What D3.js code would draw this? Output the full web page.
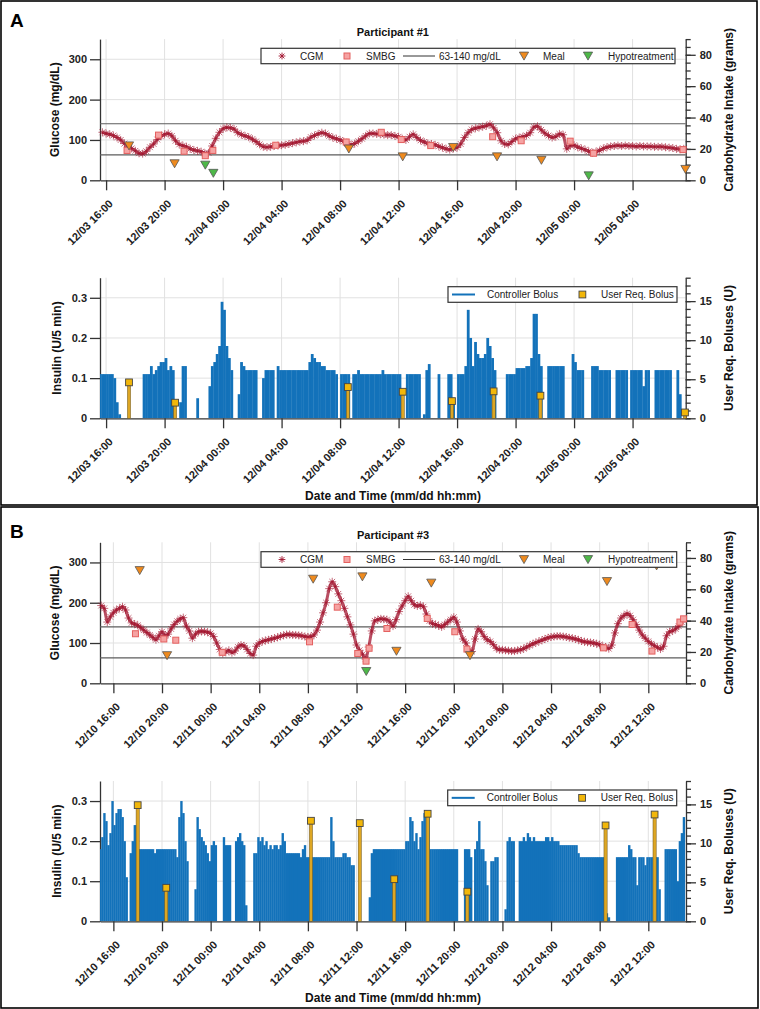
<!DOCTYPE html>
<html><head><meta charset="utf-8">
<script src="https://cdn.jsdelivr.net/npm/d3@7"></script>
<style>body{margin:0;background:#fff}</style>
</head><body>
<script>
// ---------------- DATA ----------------
const ticksA = ["12/03 16:00","12/03 20:00","12/04 00:00","12/04 04:00","12/04 08:00","12/04 12:00","12/04 16:00","12/04 20:00","12/05 00:00","12/05 04:00"];
const ticksB = ["12/10 16:00","12/10 20:00","12/11 00:00","12/11 04:00","12/11 08:00","12/11 12:00","12/11 16:00","12/11 20:00","12/12 00:00","12/12 04:00","12/12 08:00","12/12 12:00"];

// CGM, one reading every 15 min
const cgmA_start = "12/03 15:45";
const cgmA = [119,
 116,114,111,106, 100,91,84,79, 73,67,66,72, 82,90,101,109, 114,116,110,98, 89,86,83,78,
 75,73,71,67, 68,85,104,119, 128,131,130,127, 118,113,110,107, 102,96,89,83, 82,83,85,86,
 87,88,90,92, 94,96,97,99, 107,111,115,118, 116,110,106,103, 100,96,90,88, 91,97,103,110,
 116,116,115,114, 113,112,112,110, 108,103,100,108, 114,106,99,95, 91,90,88,84, 81,78,76,79,
 81,90,106,118, 126,129,131,133, 135,139,130,118, 98,90,89,96, 103,106,108,111, 118,132,134,125,
 117,111,106,108, 115,113,78,86, 87,82,79,76, 72,68,71,74, 79,82,84,85, 86,85,86,85,
 85,84,85,84, 84,84,83,83, 83,82,81,80, 78,77,78];
const cgmB_start = "12/10 15:00";
const cgmB = [193,186,152,165, 175,182,186,190, 182,162,150,147, 144,138,132,126, 120,114,108,118,
 128,118,122,135, 146,154,160,163, 142,130,112,122, 128,129,128,127, 124,116,100,84,
 74,78,82,76, 80,90,95,93, 84,74,70,92, 100,104,106,108, 110,112,114,117,
 119,121,121,120, 120,119,118,116, 115,116,120,132, 152,175,200,235, 252,240,222,205,
 186,165,145,122, 95,82,72,60, 90,130,155,158, 160,159,158,152, 142,158,178,192,
 205,216,205,195, 192,194,190,172, 155,148,146,143, 140,146,152,158, 164,152,130,110,
 100,82,79,110, 135,128,116,108, 104,96,87,83, 83,82,81,80, 80,82,83,86,
 90,94,98,101, 104,107,110,113, 115,116,117,117, 116,115,113,112, 110,108,105,103,
 102,101,100,98, 96,92,90,86, 95,125,148,162, 168,173,168,158, 146,132,120,112,
 104,98,93,89, 85,92,118,128, 130,135,142,152];

// SMBG (mg/dL)
const smbgA_t = ["12/03 17:26","12/03 19:35","12/03 21:20","12/03 22:47","12/03 23:18","12/04 03:36","12/04 08:25","12/04 10:49","12/04 12:11","12/04 14:12","12/04 18:26","12/04 20:23","12/04 23:44","12/05 01:20","12/05 07:27"];
const smbgA_v = [74,112,72,61,74,87,95,119,101,86,108,98,97,67,76];
const smbgB_t = ["12/10 17:49","12/10 20:09","12/10 21:08","12/11 00:57","12/11 08:08","12/11 10:25","12/11 12:06","12/11 12:47","12/11 13:02","12/11 14:30","12/11 17:49","12/11 20:05","12/11 21:05","12/12 08:19","12/12 10:40","12/12 12:18","12/12 14:36","12/12 14:54"];
const smbgB_v = [123,110,107,77,103,189,74,55,87,136,161,128,85,88,146,80,152,160];

// Meals and hypotreatments (grams)
const mealA_t = ["12/03 17:34","12/03 20:41","12/04 08:36","12/04 12:17","12/04 15:44","12/04 18:44","12/04 21:46","12/05 07:37"];
const mealA_g = [22,10.6,20,15,21,15,12.8,7];
const hypoA_t = ["12/03 22:47","12/03 23:20","12/05 01:00"];
const hypoA_g = [9.7,4.5,2.9];
const mealB_t = ["12/10 18:10","12/10 20:25","12/11 08:26","12/11 12:29","12/11 15:17","12/11 18:09","12/11 21:20","12/12 08:36","12/12 12:41"];
const mealB_g = [72,17.7,66.5,68,20.5,64,17.7,65,75];
const hypoB_t = ["12/11 12:48"];
const hypoB_g = [7.6];

// Controller bolus (U / 5 min), one value per 10 min
const insA_start = "12/03 15:30";
const insA = [
 0.11,0.11,0.11,0.11,0.11,0.11, 0.10,0.04,0.01,0,0,0, 0,0,0,0,0,0,
 0.11,0.11,0.11,0.13,0.11,0.12, 0.13,0.14,0.14,0.15,0.12,0.13, 0.12,0,0,0.04,0.13,0.13,
 0,0,0,0,0.05,0, 0,0,0,0.08,0.13,0.14, 0.16,0.18,0.29,0.27,0.18,0.15,
 0.12,0,0,0.06,0.14,0.13, 0.12,0.12,0.12,0.12,0.12,0, 0,0.10,0.12,0.12,0.12,0.12,
 0,0.13,0.12,0.12,0.12,0.12, 0.12,0.12,0.12,0.12,0.12,0.12, 0.12,0.12,0.14,0.16,0.15,0.14,
 0.14,0.13,0.13,0.12,0.12,0.12, 0.12,0.11,0,0.11,0.11,0.11, 0.11,0,0.11,0.11,0.12,0.11,
 0.11,0.11,0.11,0.11,0.11,0.11, 0.11,0.11,0.12,0.11,0.11,0.11, 0.11,0.11,0.11,0.11,0,0,
 0.11,0.11,0.11,0.11,0.11,0.11, 0,0.01,0.12,0.135,0,0, 0,0.11,0,0,0,0.11,
 0.11,0.04,0,0.11,0.11,0.11, 0.13,0.27,0.2,0.13,0.19,0.16, 0.15,0.15,0.16,0.2,0.18,0.15,
 0.12,0,0,0,0,0.11, 0.11,0.11,0.11,0.125,0.125,0.125, 0.125,0.13,0.13,0.15,0.26,0.26,
 0.16,0.13,0,0,0.13,0.13, 0.13,0.13,0.13,0.13,0.13,0, 0,0,0.16,0.14,0.12,0.12,
 0.12,0,0,0,0.13,0.13, 0.13,0.12,0.12,0.12,0.12,0.12, 0,0,0.12,0.12,0.12,0.12,
 0.12,0,0.12,0.12,0.12,0.12, 0.12,0.08,0.12,0.12,0,0, 0.12,0.12,0.12,0.12,0.12,0.12,
 0.12,0,0,0.12,0.06,0];
const insB_start = "12/10 14:50";
const insB = [0.18,
 0.21,0.27,0.25,0.19,0.22,0.3, 0.24,0.27,0.28,0.28,0.26,0.2, 0.11,0,0.17,0.2,0.24,0.24,
 0.18,0.18,0.18,0.18,0.18,0.18, 0.18,0.18,0.17,0.18,0.18,0.18, 0.18,0.18,0.18,0.18,0.18,0.18,
 0.18,0.16,0.26,0.3,0.27,0.2, 0.15,0,0,0,0.08,0.26, 0.23,0.21,0.2,0.19,0.17,0.15,
 0.19,0.2,0.19,0,0,0, 0.21,0.19,0.19,0.19,0,0, 0.2,0.21,0.22,0.2,0.19,0.04,
 0,0,0,0.17,0.17,0.21, 0.2,0.21,0.19,0.2,0.18,0.19, 0.18,0.19,0.19,0.18,0.19,0.22,
 0.2,0.17,0.17,0.17,0.17,0.17, 0.17,0.17,0.16,0.18,0.19,0.16, 0.16,0.16,0.16,0.16,0.16,0.16,
 0.16,0.16,0.16,0.16,0.16,0.26, 0.2,0.16,0.16,0.16,0.16,0.17, 0.17,0.16,0.16,0.14,0.14,0,
 0,0,0,0,0,0, 0.06,0.17,0.18,0.18,0.18,0.18, 0.18,0.18,0.18,0.18,0.18,0.18,
 0.18,0.18,0.18,0.18,0.18,0.18, 0.2,0.2,0.26,0.25,0.2,0.22, 0.18,0.21,0.25,0.27,0.27,0.26,
 0.18,0.18,0.18,0.18,0.18,0.18, 0.18,0.18,0.18,0.18,0.18,0.18, 0.18,0.18,0,0,0,0.18,
 0.18,0.18,0.16,0,0.18,0.2, 0.25,0.18,0.18,0.15,0.09,0, 0.15,0.15,0.16,0.16,0,0,
 0,0.03,0.2,0.21,0.2,0.2, 0,0,0.2,0.2,0.21,0.2, 0.22,0.21,0.2,0.21,0.2,0.2,
 0.2,0.2,0.2,0.21,0.21,0.2, 0.21,0.2,0.2,0.2,0.19,0.19, 0.19,0.19,0.19,0.19,0.19,0.19,
 0.19,0.17,0.16,0.16,0.16,0.16, 0.16,0.16,0.16,0.16,0.16,0.16, 0.16,0.16,0.16,0.02,0.01,0,
 0,0,0.16,0.16,0.16,0.16, 0.16,0.16,0.19,0.18,0.16,0.16, 0.09,0.16,0.16,0.16,0.14,0.16,
 0.16,0.16,0.16,0.16,0.16,0.08, 0,0,0.18,0.18,0.18,0.18, 0.18,0.18,0.1,0.2,0.22,0.26];

// User requested boluses (U)
const bolA_t = ["12/03 17:34","12/03 20:43","12/04 08:32","12/04 12:17","12/04 15:39","12/04 18:30","12/04 21:42","12/05 07:35"];
const bolA_u = [4.6,2.0,4.0,3.4,2.2,3.45,2.9,0.75];
const bolB_t = ["12/10 18:00","12/10 20:21","12/11 08:15","12/11 12:16","12/11 15:06","12/11 17:51","12/11 21:07","12/12 08:29","12/12 12:31"];
const bolB_u = [14.9,4.3,12.9,12.6,5.4,13.8,3.8,12.3,13.7];

// ---------------- DRAWING ----------------
const parseT = d3.timeParse("%Y/%m/%d %H:%M");
const T = s => parseT("2019/" + s);
const FONT = "'Liberation Sans', Arial, Helvetica, sans-serif";
const C = {cgm:"#A2142F", smbgF:"#F5A3A3", smbgS:"#E4605F", meal:"#EE8A1E", hypo:"#4DB848",
           ins:"#1372BA", bolF:"#F2B70A", bolStem:"#DDA623", ref:"#5c5c5c", grid:"#e1e1e1", axis:"#333"};

const svg = d3.select("body").append("svg").attr("width",760).attr("height",1009)
  .style("font-family",FONT);
const defs = svg.append("defs");
const asterisk = "M-4,0H4M0,-4V4M-2.9,-2.9L2.9,2.9M-2.9,2.9L2.9,-2.9";
const asteriskLeg = "M-3.4,0H3.4M0,-3.4V3.4M-2.4,-2.4L2.4,2.4M-2.4,2.4L2.4,-2.4";
const triDown = "M-4.6,-3.9L4.6,-3.9L0,4.1Z";
let clipN = 0;

function styleAxis(ax){
  ax.select(".domain").attr("stroke",C.axis).attr("stroke-width",1.3);
  ax.selectAll(".tick line").attr("stroke",C.axis).attr("stroke-width",1.3);
  ax.selectAll("text").attr("fill","#222").style("font-family",FONT).style("font-weight","bold").style("font-size","11px");
}

function frame(x, yL, yR, top, bot, leftTicks, leftFmt, rMax, rMinorStep, rMajorStep, xTicks){
  const x0 = x.range()[0], x1 = x.range()[1];
  svg.append("g").selectAll("line").data(xTicks).join("line")
    .attr("x1",d=>x(d)).attr("x2",d=>x(d)).attr("y1",top).attr("y2",bot)
    .attr("stroke",C.grid).attr("stroke-width",1);
  svg.append("g").selectAll("line").data(leftTicks.filter(v=>v>0)).join("line")
    .attr("x1",x0).attr("x2",x1).attr("y1",d=>yL(d)).attr("y2",d=>yL(d))
    .attr("stroke",C.grid).attr("stroke-width",1);
  const la = svg.append("g").attr("transform",`translate(${x0},0)`)
    .call(d3.axisLeft(yL).tickValues(leftTicks).tickFormat(leftFmt).tickSize(10).tickSizeOuter(0).tickPadding(3));
  styleAxis(la);
  const ra1 = svg.append("g").attr("transform",`translate(${x1},0)`)
    .call(d3.axisRight(yR).tickValues(d3.range(0,rMax+0.001,rMinorStep)).tickFormat("").tickSize(5).tickSizeOuter(0));
  styleAxis(ra1);
  const ra2 = svg.append("g").attr("transform",`translate(${x1},0)`)
    .call(d3.axisRight(yR).tickValues(d3.range(0,rMax+0.001,rMajorStep).filter(v=>v<=rMax-3)).tickSize(10).tickSizeOuter(0).tickPadding(4));
  styleAxis(ra2);
  ra2.select(".domain").remove();
  const ba = svg.append("g").attr("transform",`translate(0,${bot})`)
    .call(d3.axisBottom(x).tickValues(xTicks).tickFormat(d3.timeFormat("%m/%d %H:%M")).tickSize(10).tickSizeOuter(0));
  styleAxis(ba);
  ba.selectAll("text").attr("x",null).attr("y",null).attr("dy",null)
    .attr("text-anchor","end").attr("transform","translate(7,24) rotate(-45)");
}

function legendBox(x0,x1,y0,y1){
  svg.append("rect").attr("x",x0).attr("y",y0).attr("width",x1-x0).attr("height",y1-y0)
    .attr("fill","#fff").attr("stroke","#333").attr("stroke-width",1.2);
}
function legText(x,y,s){
  svg.append("text").attr("x",x).attr("y",y+3.6).text(s).attr("font-size","10px").attr("fill","#222");
}

function panel(P){
  const x = d3.scaleTime().domain([T(P.d0),T(P.d1)]).range([P.x0,P.x1]);
  const xt = P.ticks.map(T);
  const yG = d3.scaleLinear().domain([0,350]).range([P.gBot,P.gTop]);
  const yC = d3.scaleLinear().domain([0,90]).range([P.gBot,P.gTop]);
  frame(x,yG,yC,P.gTop,P.gBot,[0,100,200,300],d3.format("d"),90,5,20,xt);
  svg.append("g").selectAll("line").data([63,140]).join("line")
    .attr("x1",P.x0).attr("x2",P.x1).attr("y1",d=>yG(d)).attr("y2",d=>yG(d))
    .attr("stroke",C.ref).attr("stroke-width",1.1);
  // CGM: dense asterisk band (line under the markers keeps the band continuous)
  const cs = T(P.cgmStart);
  const tx = (d,i)=>x(d3.timeMinute.offset(cs,15*i));
  svg.append("path").datum(P.cgm)
    .attr("d",d3.line().x(tx).y(d=>yG(d)).curve(d3.curveMonotoneX))
    .attr("fill","none").attr("stroke",C.cgm).attr("stroke-width",3).attr("opacity",0.75);
  svg.append("g").selectAll("path").data(P.cgm).join("path")
    .attr("d",asterisk)
    .attr("transform",(d,i)=>`translate(${tx(d,i)},${yG(d)})`)
    .attr("fill","none").attr("stroke",C.cgm).attr("stroke-width",0.9).attr("opacity",0.7);
  svg.append("g").selectAll("rect").data(P.smbgT).join("rect")
    .attr("x",(d)=>x(T(d))-3).attr("y",(d,i)=>yG(P.smbgV[i])-3).attr("width",6).attr("height",6)
    .attr("fill",C.smbgF).attr("stroke",C.smbgS).attr("stroke-width",1);
  svg.append("g").selectAll("path").data(P.mealT).join("path").attr("d",triDown)
    .attr("transform",(d,i)=>`translate(${x(T(d))},${yC(P.mealG[i])})`)
    .attr("fill",C.meal).attr("stroke","#555").attr("stroke-width",0.8);
  svg.append("g").selectAll("path").data(P.hypoT).join("path").attr("d",triDown)
    .attr("transform",(d,i)=>`translate(${x(T(d))},${yC(P.hypoG[i])})`)
    .attr("fill",C.hypo).attr("stroke","#555").attr("stroke-width",0.8);
  svg.append("text").attr("x",(P.x0+P.x1)/2).attr("y",P.titleY).attr("text-anchor","middle")
    .attr("font-weight","bold").attr("font-size","11px").attr("fill","#111").text(P.title);
  svg.append("text").attr("transform",`translate(59,${(P.gTop+P.gBot)/2}) rotate(-90)`)
    .attr("text-anchor","middle").attr("font-weight","bold").attr("font-size","12px").attr("fill","#111").text("Glucose (mg/dL)");
  svg.append("text").attr("transform",`translate(733,${(P.gTop+P.gBot)/2}) rotate(-90)`)
    .attr("text-anchor","middle").attr("font-weight","bold").attr("font-size","12px").attr("fill","#111").text("Carbohydrate Intake (grams)");
  const L = P.legG, ly = (L[2]+L[3])/2;
  legendBox(L[0],L[1],L[2],L[3]);
  svg.append("path").attr("d",asteriskLeg).attr("transform",`translate(${L[0]+21},${ly})`).attr("fill","none").attr("stroke",C.cgm).attr("stroke-width",0.9);
  legText(L[0]+39,ly,"CGM");
  svg.append("rect").attr("x",L[0]+83).attr("y",ly-3).attr("width",6).attr("height",6).attr("fill",C.smbgF).attr("stroke",C.smbgS);
  legText(L[0]+105,ly,"SMBG");
  svg.append("line").attr("x1",L[0]+142).attr("x2",L[0]+174).attr("y1",ly).attr("y2",ly).attr("stroke","#333").attr("stroke-width",1);
  legText(L[0]+178,ly,"63-140 mg/dL");
  svg.append("path").attr("d",triDown).attr("transform",`translate(${L[0]+263},${ly})`).attr("fill",C.meal).attr("stroke","#555").attr("stroke-width",0.8);
  legText(L[0]+282,ly,"Meal");
  svg.append("path").attr("d",triDown).attr("transform",`translate(${L[0]+327},${ly})`).attr("fill",C.hypo).attr("stroke","#555").attr("stroke-width",0.8);
  legText(L[0]+347,ly,"Hypotreatment");

  const yI = d3.scaleLinear().domain([0,0.35]).range([P.iBot,P.iTop]);
  const yU = d3.scaleLinear().domain([0,18]).range([P.iBot,P.iTop]);
  frame(x,yI,yU,P.iTop,P.iBot,[0,0.1,0.2,0.3],v=>v===0?"0":d3.format(".1f")(v),18,1,5,xt);
  const cid = "clip"+(clipN++);
  defs.append("clipPath").attr("id",cid).append("rect").attr("x",P.x0).attr("y",P.iTop).attr("width",P.x1-P.x0).attr("height",P.iBot-P.iTop);
  const is = T(P.insStart);
  svg.append("g").attr("clip-path",`url(#${cid})`).selectAll("rect").data(P.ins).join("rect")
    .attr("x",(d,i)=>x(d3.timeMinute.offset(is,10*i)))
    .attr("width",(d,i)=>x(d3.timeMinute.offset(is,10*(i+1)))-x(d3.timeMinute.offset(is,10*i))+0.35)
    .attr("y",d=>yI(d)).attr("height",d=>P.iBot-yI(d))
    .attr("fill",C.ins);
  svg.append("g").selectAll("rect").data(P.bolT).join("rect")
    .attr("x",d=>x(T(d))-1.6).attr("width",3.2)
    .attr("y",(d,i)=>yU(P.bolU[i])).attr("height",(d,i)=>P.iBot-yU(P.bolU[i]))
    .attr("fill",C.bolStem).attr("stroke","#6a5520").attr("stroke-width",0.5);
  svg.append("g").selectAll("rect").data(P.bolT).join("rect")
    .attr("x",d=>x(T(d))-3.4).attr("width",6.8)
    .attr("y",(d,i)=>yU(P.bolU[i])-3.4).attr("height",6.8)
    .attr("fill",C.bolF).attr("stroke","#444").attr("stroke-width",0.9);
  svg.append("text").attr("transform",`translate(61,${(P.iTop+P.iBot)/2}) rotate(-90)`)
    .attr("text-anchor","middle").attr("font-weight","bold").attr("font-size","12px").attr("fill","#111").text("Insulin (U/5 min)");
  svg.append("text").attr("transform",`translate(733,${(P.iTop+P.iBot)/2}) rotate(-90)`)
    .attr("text-anchor","middle").attr("font-weight","bold").attr("font-size","12px").attr("fill","#111").text("User Req. Boluses (U)");
  svg.append("text").attr("x",393).attr("y",P.xlabY).attr("text-anchor","middle")
    .attr("font-weight","bold").attr("font-size","12px").attr("fill","#111").text("Date and Time (mm/dd hh:mm)");
  const M = P.legI, my = (M[2]+M[3])/2;
  legendBox(M[0],M[1],M[2],M[3]);
  svg.append("line").attr("x1",M[0]+4).attr("x2",M[0]+27).attr("y1",my).attr("y2",my).attr("stroke",C.ins).attr("stroke-width",2);
  legText(M[0]+39,my,"Controller Bolus");
  svg.append("rect").attr("x",M[0]+131).attr("y",my-3.4).attr("width",6.8).attr("height",6.8).attr("fill",C.bolF).attr("stroke","#444").attr("stroke-width",0.9);
  legText(M[0]+153,my,"User Req. Bolus");
  svg.append("text").attr("x",10).attr("y",P.letterY).attr("font-weight","bold").attr("font-size","19px").attr("fill","#000").text(P.letter);
  svg.append("rect").attr("x",P.box[0]).attr("y",P.box[1]).attr("width",P.box[2]-P.box[0]).attr("height",P.box[3]-P.box[1])
    .attr("fill","none").attr("stroke","#000").attr("stroke-width",1.6);
}

panel({letter:"A", letterY:27, box:[1,1,757,505], title:"Participant #1", titleY:36,
  d0:"12/03 15:35", d1:"12/05 07:38", ticks:ticksA, x0:100, x1:685.7,
  gTop:39.1, gBot:180.3, iTop:277.7, iBot:418.3, xlabY:500,
  cgmStart:cgmA_start, cgm:cgmA, smbgT:smbgA_t, smbgV:smbgA_v, mealT:mealA_t, mealG:mealA_g,
  hypoT:hypoA_t, hypoG:hypoA_g, insStart:insA_start, ins:insA, bolT:bolA_t, bolU:bolA_u,
  legG:[261,675,48.3,63.7], legI:[448,677,286.7,302.3]});
panel({letter:"B", letterY:538, box:[1,507,758,1008], title:"Participant #3", titleY:539,
  d0:"12/10 14:54", d1:"12/12 15:06", ticks:ticksB, x0:100, x1:686,
  gTop:542.3, gBot:683.3, iTop:781, iBot:921.3, xlabY:1002,
  cgmStart:cgmB_start, cgm:cgmB, smbgT:smbgB_t, smbgV:smbgB_v, mealT:mealB_t, mealG:mealB_g,
  hypoT:hypoB_t, hypoG:hypoB_g, insStart:insB_start, ins:insB, bolT:bolB_t, bolU:bolB_u,
  legG:[261,676.7,551.7,567.3], legI:[447.7,676.7,790,805.7]});
</script>
</body></html>
